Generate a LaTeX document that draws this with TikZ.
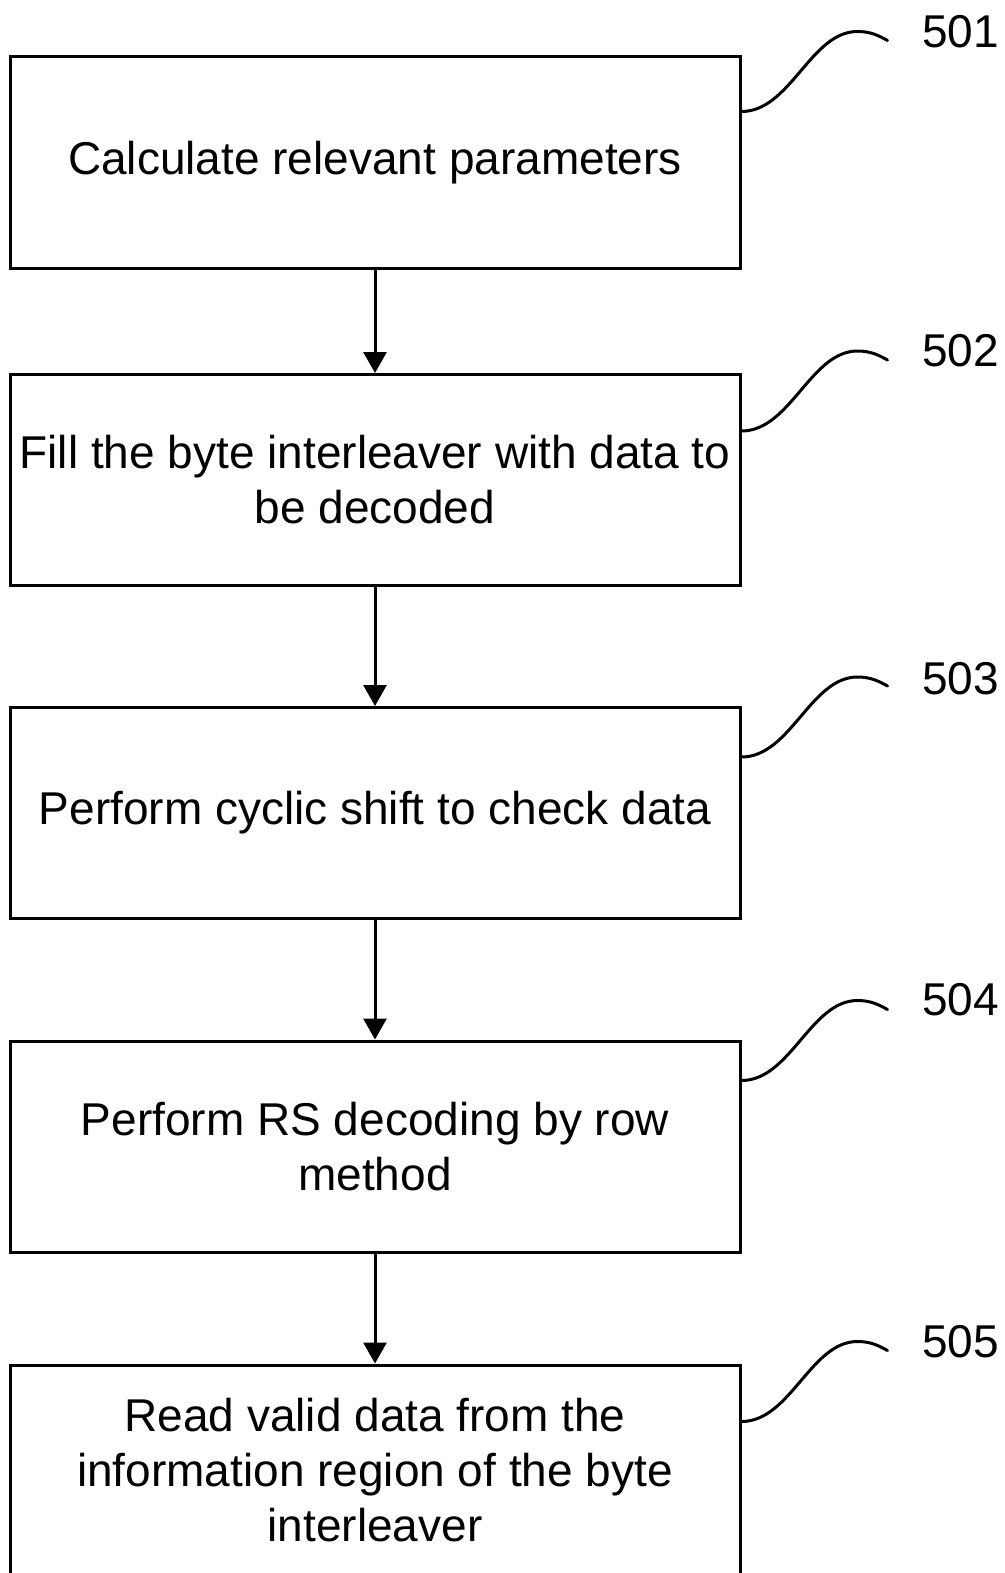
\documentclass[tikz,border=0pt]{standalone}
\usepackage{fontspec}
\setmainfont{Liberation Sans}
\usetikzlibrary{arrows.meta}
\tikzset{
  stepbox/.style={draw, line width=3pt, minimum width=730pt, minimum height=211pt,
    inner sep=0pt, align=center, font=\fontsize{46}{55}\selectfont},
  flowarrow/.style={line width=3pt, -{Triangle[width=23pt,length=21pt]}},
  callout/.style={line width=3pt, line cap=round},
  reflabel/.style={anchor=west, inner sep=0pt, font=\fontsize{46}{55}\selectfont}
}
\begin{document}
\begin{tikzpicture}[x=1pt,y=-1pt]
\useasboundingbox (0,0) rectangle (1004,1573);
\node[stepbox] (b1) at (375,162.5) {Calculate relevant parameters};
\node[stepbox] (b2) at (375,480) {Fill the byte interleaver with data to\\be decoded};
\node[stepbox] (b3) at (375,813) {Perform cyclic shift to check data};
\node[stepbox] (b4) at (375,1146.5) {Perform RS decoding by row\\method};
\node[stepbox] (b5) at (375,1470.5) {Read valid data from the\\information region of the byte\\interleaver};
\draw[flowarrow] (b1) -- (b2);
\draw[flowarrow] (b2) -- (b3);
\draw[flowarrow] (b3) -- (b4);
\draw[flowarrow] (b4) -- (b5);
\coordinate (c1) at ([yshift=-56pt]b1.north east);
\coordinate (c2) at ([yshift=-58pt]b2.north east);
\coordinate (c3) at ([yshift=-51pt]b3.north east);
\coordinate (c4) at ([yshift=-41pt]b4.north east);
\coordinate (c5) at ([yshift=-58pt]b5.north east);
\foreach \c in {c1,c2,c3,c4,c5}{
  \draw[callout] (\c) .. controls +(49,0) and +(-47,0) .. ++(116,-80)
    .. controls +(13,0) and +(-9,-5) .. ++(30,9);
}
\node[reflabel] (l1) at (922,31.5) {501};
\node[reflabel] (l2) at (922,351) {502};
\node[reflabel] (l3) at (922,678.5) {503};
\node[reflabel] (l4) at (922,1000) {504};
\node[reflabel] (l5) at (922,1341.5) {505};
\end{tikzpicture}
\end{document}
